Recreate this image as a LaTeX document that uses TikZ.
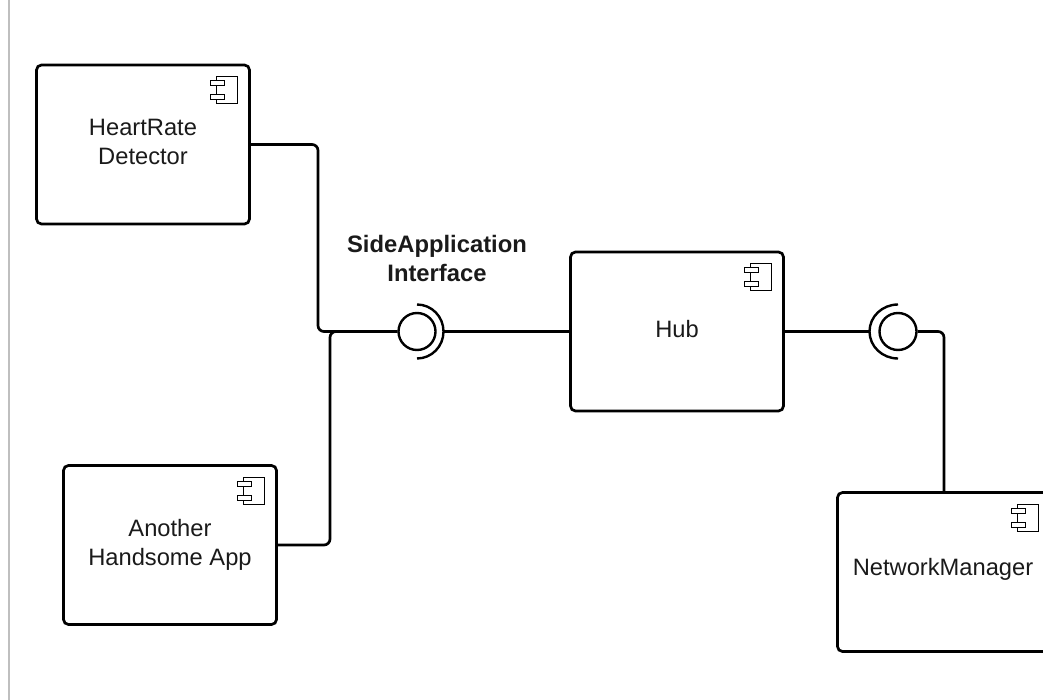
\documentclass[tikz,border=0pt]{standalone}
\usepackage{fontspec}
\setmainfont{Liberation Sans}
\usetikzlibrary{positioning}
\definecolor{inkblack}{HTML}{1A1A1A}
\tikzset{%
  compbox/.style = {shape=rectangle, rounded corners=5pt, draw=black, line width=2.7pt,%
                    minimum width=213pt, minimum height=159pt, inner sep=0pt},%
  complabel/.style = {align=center, text=inkblack, font=\fontsize{23.7}{29}\selectfont, inner sep=0pt},%
  ifacelabel/.style = {complabel, font=\fontsize{23.8}{29}\selectfont\bfseries},%
  ball/.style = {circle, draw=black, line width=2.4pt, minimum size=37pt, inner sep=0pt},%
  wire/.style = {draw=black, line width=2.7pt, rounded corners=6pt},%
  socket/.style = {draw=black, line width=2.4pt},%
  compicon/.pic = {
    \draw[line width=1pt] (-26,13) -- (-13,13) -- (-13,40) -- (-34,40) -- (-34,36)
      (-34,31) -- (-34,22) (-34,17) -- (-34,13) -- (-26,13);
    \draw[line width=1pt] (-40,17) rectangle (-26,22);
    \draw[line width=1pt] (-40,31) rectangle (-26,36);
  }%
}
\begin{document}
\begin{tikzpicture}[x=1pt, y=-1pt]
  \useasboundingbox (0,0) rectangle (1043,700);
  \clip (0,0) rectangle (1043,700);
  \draw[gray!50, line width=1.3pt] (9,0) -- (9,700);
  % -------------- components --------------
  \node[compbox] (hrd) at (143,144.5) {};
  \node[compbox] (aha) at (170,545) {};
  \node[compbox] (hub) at (677,331.5) {};
  \node[compbox] (nwm) at (944,572) {};
  \pic at (hrd.north east) {compicon};
  \pic at (aha.north east) {compicon};
  \pic at (hub.north east) {compicon};
  \pic at (nwm.north east) {compicon};
  \node[complabel] (hrdtext) at (143,142) {HeartRate\\Detector};
  \node[complabel] (ahatext) at (170,544.5) {Another\\Handsome App};
  \node[complabel] (hubtext) at (677,329) {Hub};
  \node[complabel] (nwmtext) at (943,569.5) {NetworkManager};
  \node[ifacelabel] (sidetext) at (437,258) {SideApplication\\Interface};
  % -------------- interfaces --------------
  \node[ball] (sideball) at (417,331.5) {};
  \node[ball] (netball) at (898,331.5) {};
  \draw[socket] (sideball.center) ++(0,27) arc[start angle=90, end angle=-90, x radius=26.5, y radius=27];
  \draw[socket] (netball.center) ++(0,27) arc[start angle=90, end angle=270, x radius=28.5, y radius=27];
  \coordinate (sidesock) at (443.5,331.5);
  \coordinate (netsock) at (869.5,331.5);
  \coordinate (jointa) at (318,331.5);
  \coordinate (jointb) at (330,331.5);
  \coordinate (netdrop) at (944,492);
  % -------------- connectors --------------
  \draw[wire] (hrd.east) -| (jointa) -- (sideball.west);
  \draw[wire] (aha.east) -| (jointb) -- (sideball.west);
  \draw[wire] (sidesock) -- (hub.west);
  \draw[wire] (hub.east) -- (netsock);
  \draw[wire] (netball.east) -| (netdrop);
\end{tikzpicture}
\end{document}
